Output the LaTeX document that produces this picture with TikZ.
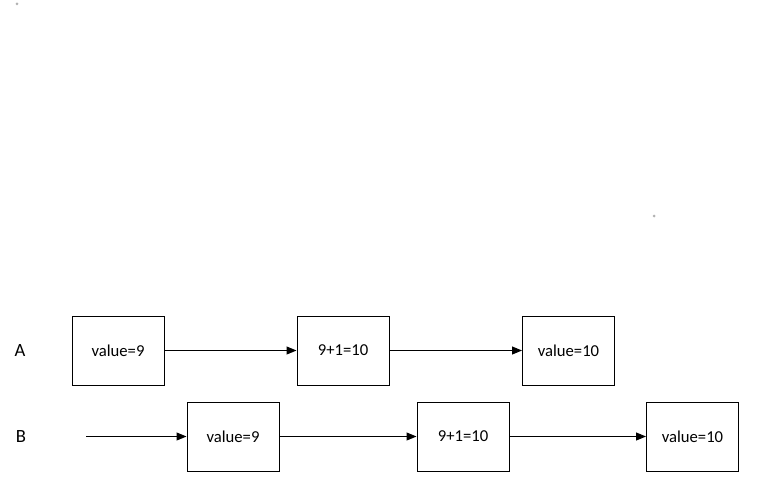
\documentclass[tikz,border=0pt]{standalone}
\usepackage{fontspec}
\setmainfont{Carlito}
\usetikzlibrary{arrows.meta, positioning}

\tikzset{
    stepbox/.style={draw, line width=0.75pt, minimum width=69pt, minimum height=51.75pt, inner sep=0pt, font=\fontsize{12.5}{14}\selectfont},
    flow/.style={line width=0.75pt, -{Triangle[length=7.5pt, width=6pt]}},
    rowlabel/.style={font=\fontsize{14}{16}\selectfont}
}

\begin{document}
\begin{tikzpicture}[x=0.75pt, y=-0.75pt]
                \useasboundingbox (0,0) rectangle (781,503);
                % Stray dots
                \fill[gray!60] (17,4) circle (1.5);
                \fill[gray!60] (654,216) circle (1.5);

                % Row A
                \node[rowlabel] (labelA) at (20,351) {A};
                \node[stepbox] (a1) at (118,350.5) {value=9};
                \node[stepbox] (a2) at (343,350.5) {9+1=10};
                \node[stepbox] (a3) at (568.5,350.5) {value=10};
                \draw[flow] (a1) -- (a2);
                \draw[flow] (a2) -- (a3);

                % Row B
                \node[rowlabel] (labelB) at (21,437) {B};
                \coordinate (bstart) at (86,436.5);
                \node[stepbox] (b1) at (233,436.5) {value=9};
                \node[stepbox] (b2) at (463,436.5) {9+1=10};
                \node[stepbox] (b3) at (692.5,436.5) {value=10};
                \draw[flow] (bstart) -- (b1);
                \draw[flow] (b1) -- (b2);
                \draw[flow] (b2) -- (b3);
            \end{tikzpicture}
\end{document}
